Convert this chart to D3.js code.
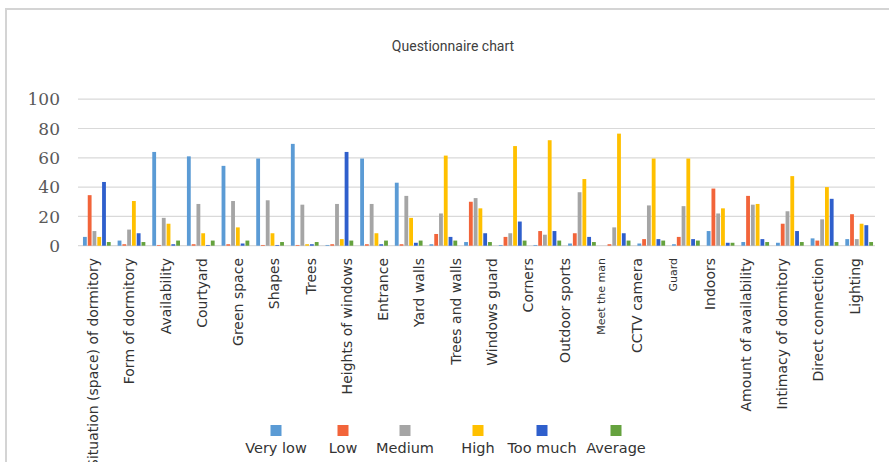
<!DOCTYPE html>
<html>
<head>
<meta charset="utf-8">
<script src="https://cdn.jsdelivr.net/npm/d3@7"></script>
<style>
body{margin:0;background:#fff;}
</style>
</head>
<body>
<svg id="svg" width="889" height="462"></svg>
<script>
var labels=["Situation (space) of dormitory","Form of dormitory","Availability","Courtyard","Green space","Shapes","Trees","Heights of windows","Entrance","Yard walls","Trees and walls","Windows  guard","Corners","Outdoor sports","Meet the man","CCTV camera","Guard","Indoors","Amount of availability","Intimacy of dormitory","Direct connection","Lighting"];
var smallLabels=["Meet the man","Guard"];
var seriesNames=["Very low","Low","Medium","High","Too much","Average"];
var colors=["#5b9bd5","#f2643a","#a5a5a5","#ffc000","#2f5fcc","#65a23e"];
var yTicks=[0,20,40,60,80,100];
// one value per bar group (23 groups are drawn, 22 labels are printed)
var veryLow=[6,3.5,64,61,54.5,59.5,69.5,0.5,59.5,43,1,2.5,0.5,0.5,1.5,0,1.5,1,10,2.5,2,5,4.5];
var low=[34.5,1,0.5,1,1,0.5,0.5,1,1,1,8,30,6,10,8.5,1,4.5,6,39,34,15,3.5,21.5];
var medium=[10,11,19,28.5,30.5,31,28,28.5,28.5,34,22,32.5,8.5,7.5,36.5,12.5,27.5,27,22,28,23.5,18,4.5];
var high=[6,30.5,15,8.5,12.5,8.5,1,4.5,8.5,19,61.5,25.5,68,72,45.5,76.5,59.5,59.5,25.5,28.5,47.5,40,15];
var tooMuch=[43.5,8.5,1,0.5,1.5,0.5,1,64,1,2,6,8.5,16.5,10,6,8.5,4.5,4.5,2,4.5,10,32,14];
var average=[2.5,2.5,3.5,3.5,3.5,2.5,2.5,3.5,3.5,3.5,3.5,2.5,3.5,3.5,2.5,3.5,3.5,3.5,2,2.5,2.5,2.5,2.5];

var series=[veryLow,low,medium,high,tooMuch,average];
var svg=d3.select("#svg");

// frame
svg.append("rect")
   .attr("x",6).attr("y",9)
   .attr("width",900).attr("height",500)
   .style("fill","none")
   .style("stroke","#d4d4d4")
   .style("stroke-width",2);

svg.append("text")
   .attr("x",453).attr("y",51)
   .attr("text-anchor","middle")
   .style("font-family","Roboto")
   .style("font-size","14px")
   .style("fill","#404040")
   .text("Questionnaire chart");

var y=d3.scaleLinear().domain([0,100]).range([245.7,99.2]);
var x0=d3.scaleBand().domain(d3.range(veryLow.length)).range([79.5,876.5]).paddingInner(0.2).paddingOuter(0.1);
var x1=d3.scaleBand().domain(d3.range(seriesNames.length)).range([0,x0.bandwidth()]).paddingInner(0.2);
var xl=d3.scaleBand().domain(labels).range([75,873]);

// grid
svg.append("g").selectAll("line")
   .data(yTicks).enter().append("line")
   .attr("x1",78).attr("x2",875)
   .attr("y1",function(d){return y(d);})
   .attr("y2",function(d){return y(d);})
   .style("stroke","#d9d9d9")
   .style("stroke-width",1.2);

svg.append("g").selectAll("text")
   .data(yTicks).enter().append("text")
   .attr("x",60)
   .attr("y",function(d){return y(d);})
   .attr("dy","0.36em")
   .attr("text-anchor","end")
   .style("font-family","DejaVu Serif")
   .style("font-size","17px")
   .style("fill","#595959")
   .text(function(d){return d;});

// bars
var groups=svg.append("g").selectAll("g")
   .data(d3.range(veryLow.length)).enter().append("g")
   .attr("transform",function(i){return "translate("+x0(i)+",0)";});
groups.selectAll("rect")
   .data(function(i){return series.map(function(s,k){return {k:k,v:s[i]};});})
   .enter().append("rect")
   .attr("x",function(d){return x1(d.k);})
   .attr("width",x1.bandwidth())
   .attr("y",function(d){return y(d.v);})
   .attr("height",function(d){return y(0)-y(d.v);})
   .style("fill",function(d){return colors[d.k];});

// category labels
svg.append("g").selectAll("text")
   .data(labels).enter().append("text")
   .attr("transform",function(d){return "translate("+(xl(d)+xl.bandwidth()/2)+",258) rotate(-90)";})
   .attr("dy","0.35em")
   .attr("text-anchor","end")
   .style("font-family","DejaVu Sans")
   .style("font-size",function(d){return smallLabels.indexOf(d)>=0?"11px":"14px";})
   .style("fill","#333")
   .text(function(d){return d;});

// legend, item centres follow the reference's uneven spacing
var legendX=[276,343,405,478,542,616];
var lg=svg.append("g");
seriesNames.forEach(function(n,k){
  lg.append("rect")
     .attr("x",legendX[k]-5.5).attr("y",425)
     .attr("width",11).attr("height",11)
     .style("fill",colors[k]);
  lg.append("text")
     .attr("x",legendX[k]).attr("y",453)
     .attr("text-anchor","middle")
     .style("font-family","DejaVu Sans")
     .style("font-size","14.5px")
     .style("fill","#333")
     .text(n);
});
</script>
</body>
</html>
